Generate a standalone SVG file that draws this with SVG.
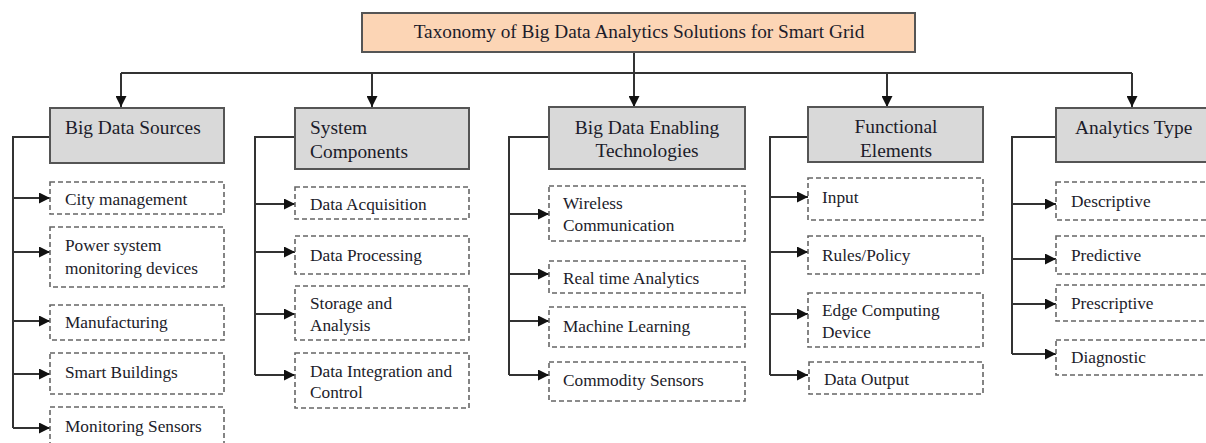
<svg xmlns="http://www.w3.org/2000/svg" width="1206" height="443" viewBox="0 0 1206 443">
<defs>
<marker id="ah" viewBox="0 0 10 10" refX="10" refY="5" markerWidth="5.5" markerHeight="5.5" orient="auto" markerUnits="strokeWidth">
<path d="M0,0 L10,5 L0,10 z" fill="#111"/>
</marker>
<style>
.t{font-family:"Liberation Serif","Times New Roman",serif;fill:#1c1c2a}
.title{font-size:19.3px}
.h{font-size:19.4px}
.c{font-size:17.3px}
.hb{fill:#d9d9d9;stroke:#555;stroke-width:2}
.db{fill:#fff;stroke:#666;stroke-width:1.6;stroke-dasharray:5 3}
.ln{fill:none;stroke:#333;stroke-width:2}
.ar{fill:none;stroke:#333;stroke-width:2;marker-end:url(#ah)}
</style>
</defs>
<rect width="1206" height="443" fill="#fff"/>

<g id="connectors">
<path class="ln" d="M634,52 V73 M121,73 H1132"/>
<path class="ar" d="M121,73 V107"/>
<path class="ar" d="M372,73 V107"/>
<path class="ar" d="M634,52 V107"/>
<path class="ar" d="M887,73 V107"/>
<path class="ar" d="M1132,73 V107"/>
<!-- col1 -->
<path class="ln" d="M50,137 H13 V428"/>
<path class="ar" d="M13,198 H50"/>
<path class="ar" d="M13,252 H50"/>
<path class="ar" d="M13,321 H50"/>
<path class="ar" d="M13,374 H50"/>
<path class="ar" d="M13,428 H50"/>
<!-- col2 -->
<path class="ln" d="M295,137 H255 V375"/>
<path class="ar" d="M255,204 H295"/>
<path class="ar" d="M255,252 H295"/>
<path class="ar" d="M255,314 H295"/>
<path class="ar" d="M255,375 H295"/>
<!-- col3 -->
<path class="ln" d="M549,137 H509 V375"/>
<path class="ar" d="M509,214 H549"/>
<path class="ar" d="M509,274 H549"/>
<path class="ar" d="M509,321 H549"/>
<path class="ar" d="M509,375 H549"/>
<!-- col4 -->
<path class="ln" d="M808,137 H770 V375"/>
<path class="ar" d="M770,197 H808"/>
<path class="ar" d="M770,252 H808"/>
<path class="ar" d="M770,314 H808"/>
<path class="ar" d="M770,375 H808"/>
<!-- col5 -->
<path class="ln" d="M1056,137 H1012 V354"/>
<path class="ar" d="M1012,204 H1056"/>
<path class="ar" d="M1012,259 H1056"/>
<path class="ar" d="M1012,304 H1056"/>
<path class="ar" d="M1012,354 H1056"/>
</g>

<g id="root">
<rect x="362" y="13" width="553" height="39" fill="#fcd5b5" stroke="#555" stroke-width="2"/>
<text class="t title" x="639" y="38" text-anchor="middle">Taxonomy of Big Data Analytics Solutions for Smart Grid</text>
</g>

<g id="h1"><rect class="hb" x="50" y="108" width="174" height="55"/>
<text class="t h" x="65" y="134">Big Data Sources</text></g>
<g id="h2"><rect class="hb" x="295" y="108" width="174" height="61"/>
<text class="t h" x="310" y="134">System</text><text class="t h" x="310" y="158">Components</text></g>
<g id="h3"><rect class="hb" x="549" y="107" width="196" height="62"/>
<text class="t h" x="647" y="134" text-anchor="middle">Big Data Enabling</text><text class="t h" x="647" y="157" text-anchor="middle">Technologies</text></g>
<g id="h4"><rect class="hb" x="808" y="107" width="175" height="55"/>
<text class="t h" x="896" y="133" text-anchor="middle">Functional</text><text class="t h" x="896" y="157" text-anchor="middle">Elements</text></g>
<g id="h5"><rect class="hb" x="1056" y="108" width="160" height="54"/>
<text class="t h" x="1075" y="134">Analytics Type</text></g>

<!-- col1 children -->
<g id="c1a"><rect class="db" x="50" y="182" width="174" height="32"/><text class="t c" x="65" y="205">City management</text></g>
<g id="c1b"><rect class="db" x="50" y="227" width="174" height="60"/><text class="t c" x="65" y="251">Power system</text><text class="t c" x="65" y="274">monitoring devices</text></g>
<g id="c1c"><rect class="db" x="50" y="305" width="174" height="35"/><text class="t c" x="65" y="328">Manufacturing</text></g>
<g id="c1d"><rect class="db" x="50" y="353" width="174" height="41"/><text class="t c" x="65" y="378">Smart Buildings</text></g>
<g id="c1e"><rect class="db" x="50" y="407" width="174" height="50"/><text class="t c" x="65" y="432">Monitoring Sensors</text></g>

<!-- col2 children -->
<g id="c2a"><rect class="db" x="295" y="187" width="174" height="32"/><text class="t c" x="310" y="210">Data Acquisition</text></g>
<g id="c2b"><rect class="db" x="295" y="236" width="174" height="38"/><text class="t c" x="310" y="261">Data Processing</text></g>
<g id="c2c"><rect class="db" x="295" y="286" width="174" height="54"/><text class="t c" x="310" y="309">Storage and</text><text class="t c" x="310" y="331">Analysis</text></g>
<g id="c2d"><rect class="db" x="295" y="353" width="174" height="55"/><text class="t c" x="310" y="377">Data Integration and</text><text class="t c" x="310" y="398">Control</text></g>

<!-- col3 children -->
<g id="c3a"><rect class="db" x="549" y="186" width="196" height="55"/><text class="t c" x="563" y="209">Wireless</text><text class="t c" x="563" y="231">Communication</text></g>
<g id="c3b"><rect class="db" x="549" y="261" width="196" height="32"/><text class="t c" x="563" y="284">Real time Analytics</text></g>
<g id="c3c"><rect class="db" x="549" y="307" width="196" height="40"/><text class="t c" x="563" y="332">Machine Learning</text></g>
<g id="c3d"><rect class="db" x="549" y="362" width="196" height="39"/><text class="t c" x="563" y="386">Commodity Sensors</text></g>

<!-- col4 children -->
<g id="c4a"><rect class="db" x="808" y="178" width="175" height="42"/><text class="t c" x="822" y="203">Input</text></g>
<g id="c4b"><rect class="db" x="808" y="236" width="175" height="38"/><text class="t c" x="822" y="261">Rules/Policy</text></g>
<g id="c4c"><rect class="db" x="808" y="293" width="175" height="54"/><text class="t c" x="822" y="316">Edge Computing</text><text class="t c" x="822" y="338">Device</text></g>
<g id="c4d"><rect class="db" x="809" y="362" width="174" height="32"/><text class="t c" x="824" y="385">Data Output</text></g>

<!-- col5 children -->
<g id="c5a"><rect class="db" x="1056" y="182" width="160" height="38"/><text class="t c" x="1071" y="207">Descriptive</text></g>
<g id="c5b"><rect class="db" x="1056" y="236" width="160" height="38"/><text class="t c" x="1071" y="261">Predictive</text></g>
<g id="c5c"><rect class="db" x="1056" y="285" width="160" height="36"/><text class="t c" x="1071" y="309">Prescriptive</text></g>
<g id="c5d"><rect class="db" x="1056" y="340" width="160" height="35"/><text class="t c" x="1071" y="363">Diagnostic</text></g>
</svg>
